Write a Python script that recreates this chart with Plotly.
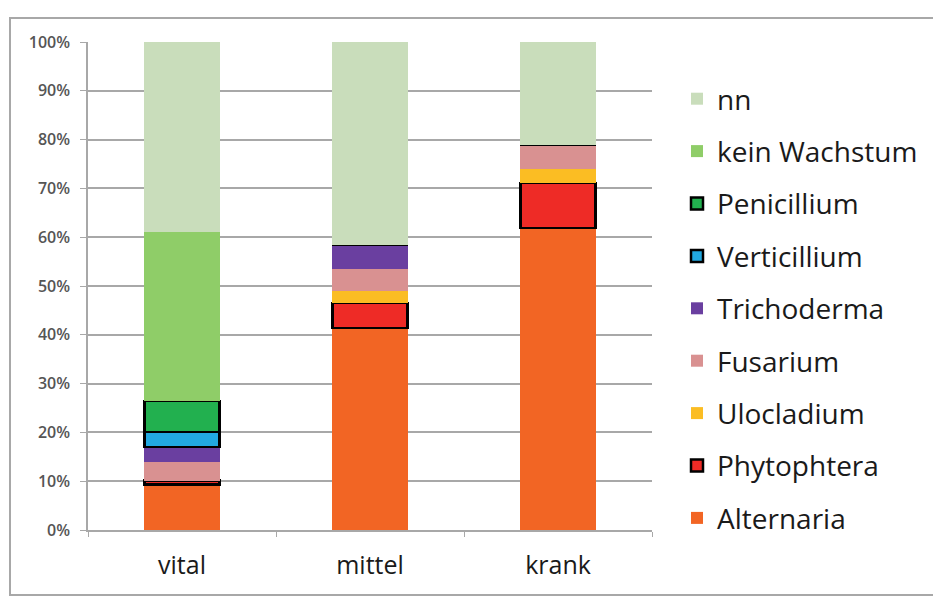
import plotly.graph_objects as go

categories = ["vital", "mittel", "krank"]

# stacked from bottom to top (shares in %)
series_names = ["Alternaria", "Phytophtera", "Ulocladium", "Fusarium", "Trichoderma",
                "Verticillium", "Penicillium", "kein Wachstum", "nn"]
alternaria = [9.3, 41.4, 61.9]
phytophtera = [0.8, 5.1, 9.2]
ulocladium = [0.0, 2.5, 2.9]
fusarium = [3.8, 4.5, 4.9]
trichoderma = [3.1, 4.9, 0.0]
verticillium = [3.1, 0.0, 0.0]
penicillium = [6.3, 0.0, 0.0]
kein_wachstum = [34.6, 0.0, 0.0]
nn = [39.0, 41.6, 21.1]

series_values = [alternaria, phytophtera, ulocladium, fusarium, trichoderma,
                 verticillium, penicillium, kein_wachstum, nn]
colors = ["#f26524", "#ee2b26", "#fbbd23", "#d99191", "#6a3fa0",
          "#22a9e1", "#22b04f", "#8fcd68", "#c9ddbb"]
outlined = {"Phytophtera", "Verticillium", "Penicillium"}

y_ticks = [0, 10, 20, 30, 40, 50, 60, 70, 80, 90, 100]
y_tick_labels = [f"{v}%" for v in y_ticks]

fig = go.Figure()
for i, (name, vals, col) in enumerate(zip(series_names, series_values, colors)):
    fig.add_trace(go.Bar(
        name=name, x=categories, y=vals,
        marker=dict(color=col,
                    line=dict(color="#000000", width=2.5 if name in outlined else 0)),
        legendgroup=name, legendrank=1000 - i,
    ))

# page body has an 8px offset; work in figure coordinates
W, H = 933, 593
L, R, T, B = 80, W - 644, 34, H - 522
pw, ph = W - L - R, H - T - B

fig.update_layout(
    width=W, height=H,
    barmode="stack", bargap=0.6,
    margin=dict(l=L, r=R, t=T, b=B),
    paper_bgcolor="white", plot_bgcolor="white",
    font=dict(family="Open Sans", color="#222222"),
    legend=dict(
        traceorder="grouped", tracegroupgap=13,
        x=(669 - L) / pw, xanchor="left",
        y=(522 - 66) / ph, yanchor="top",
        font=dict(size=28, color="#1a1a1a", family="Open Sans"),
        bgcolor="rgba(0,0,0,0)",
    ),
    showlegend=True,
    shapes=[dict(type="rect", xref="paper", yref="paper",
                 x0=(2 - L) / pw, x1=(930 - L) / pw,
                 y0=(522 - 587) / ph, y1=(522 - 10) / ph,
                 line=dict(color="#a8a8a8", width=2), fillcolor="rgba(0,0,0,0)",
                 layer="below")],
)
fig.update_yaxes(
    range=[0, 100], tickvals=y_ticks, ticktext=y_tick_labels,
    showgrid=True, gridcolor="#a8a8a8", gridwidth=1.5,
    showline=True, linecolor="#a8a8a8", linewidth=1.5,
    ticks="outside", ticklen=6, tickcolor="#a8a8a8", ticklabelstandoff=7,
    tickfont=dict(size=16, color="#555555", family="Open Sans", weight=600),
    zeroline=False,
)
fig.update_xaxes(
    showline=True, linecolor="#a8a8a8", linewidth=1.5,
    ticks="outside", ticklen=5, tickcolor="#a8a8a8", tickson="boundaries",
    ticklabelstandoff=12,
    tickfont=dict(size=25, color="#1a1a1a", family="Open Sans"),
)
fig.write_html("out.html")
